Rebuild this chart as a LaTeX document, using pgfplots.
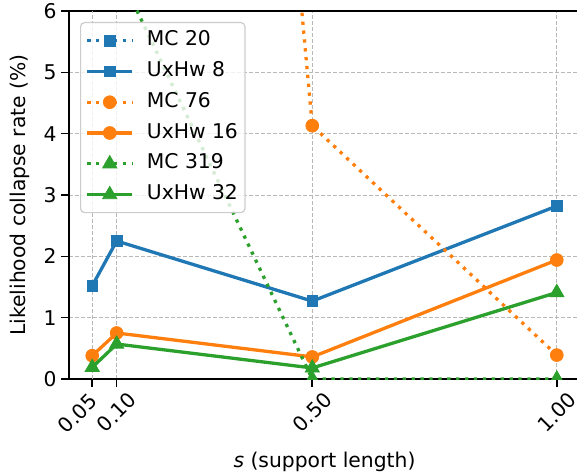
\documentclass[border=0pt]{standalone}
\usepackage{fontspec}
\setmainfont{DejaVu Sans}
\usepackage{pgfplots}
\pgfplotsset{compat=1.18}
\definecolor{tabblue}{HTML}{1F77B4}
\definecolor{taborange}{HTML}{FF7F0E}
\definecolor{tabgreen}{HTML}{2CA02C}
\newcommand{\fs}{\fontsize{20.3}{24}\selectfont}
\begin{document}
\begin{tikzpicture}
\begin{axis}[
  name=ax,
  scale only axis, width=511pt, height=368pt,
  xmin=0.0025, xmax=1.0475, ymin=0, ymax=6,
  xtick={0.1,0.5,1}, xticklabels={0.10,0.50,1.00},
  extra x ticks={0.05}, extra x tick labels={0.05},
  extra x tick style={grid=major, xticklabel style={xshift=-11.3pt, yshift=9.2pt}},
  ytick={0,1,2,3,4,5,6},
  tick align=outside, xtick pos=bottom, ytick pos=left,
  major tick length=8pt,
  tick style={black, line width=1.6pt},
  axis line style={line width=1.6pt},
  /pgf/number format/assume math mode=true,
  tick label style={font=\fs},
  xticklabel style={anchor=center, yshift=-25pt, rotate=45},
  yticklabel style={anchor=east, xshift=-1pt},
  grid=major,
  major grid style={black!28, line width=1pt, dash pattern=on 4pt off 2pt},
  xlabel={\textit{s} (support length)},
  ylabel={Likelihood collapse rate (\%)},
  xlabel style={font=\fs, at={(axis description cs:0.5,-0.2418)}, anchor=base},
  ylabel style={font=\fs, at={(axis description cs:-0.0959,0.5)}, anchor=center},
  clip marker paths=true,
  mcline/.style={line width=3.3pt, dash pattern=on 3.3pt off 5.6pt},
  uxline/.style={line width=3.3pt, solid},
  mark options={solid, line width=0.8pt},
  legend image code/.code={\draw[#1, sharp corners, fill opacity=1, draw opacity=1, mark repeat=2, mark phase=2]
     plot coordinates {(0pt,0pt) (22.5pt,0pt) (45pt,0pt)};},
  legend cell align=left,
  legend style={font=\fs, at={(0,1)}, anchor=north west, xshift=11pt, yshift=-11pt,
     fill=white, fill opacity=0.8, draw opacity=1, text opacity=1, draw=black!20,
     line width=1.2pt, rounded corners=4pt,
     inner xsep=5pt, inner ysep=5pt, row sep=4.8pt, column sep=11pt,
     nodes={inner xsep=2pt, inner ysep=4pt, text height=14pt, text depth=4pt}},
]
\addplot[tabblue, mcline, mark=square*, mark size=5.3pt] coordinates {(0.05,40) (0.10,30) (0.50,20) (1.00,15)};
\addlegendentry{MC 20}
\addplot[tabblue, uxline, mark=square*, mark size=5.3pt] coordinates {(0.05,1.52) (0.10,2.25) (0.50,1.27) (1.00,2.82)};
\addlegendentry{UxHw 8}
\addplot[taborange, mcline, mark=*, mark size=6.4pt] coordinates {(0.05,45) (0.10,39) (0.50,4.13) (1.00,0.39)};
\addlegendentry{MC 76}
\addplot[taborange, uxline, mark=*, mark size=6.4pt] coordinates {(0.05,0.38) (0.10,0.75) (0.50,0.36) (1.00,1.94)};
\addlegendentry{UxHw 16}
\addplot[tabgreen, mcline, mark=triangle*, mark size=8.2pt] coordinates {(0.05,8.5) (0.10,6.7) (0.50,0) (1.00,0)};
\addlegendentry{MC 319}
\addplot[tabgreen, uxline, mark=triangle*, mark size=8.2pt] coordinates {(0.05,0.19) (0.10,0.57) (0.50,0.18) (1.00,1.41)};
\addlegendentry{UxHw 32}
\end{axis}
\pgfresetboundingbox
\path[use as bounding box] ([xshift=-69pt,yshift=-95pt]ax.south west) rectangle ([xshift=508pt,yshift=11pt]ax.north west);
\end{tikzpicture}
\end{document}
